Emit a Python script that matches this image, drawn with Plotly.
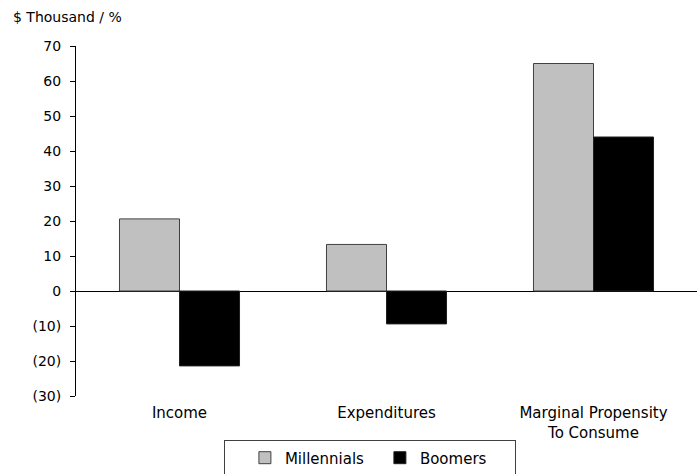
import plotly.graph_objects as go

categories = ["Income", "Expenditures", "Marginal Propensity<br>To Consume"]
millennials = [20.6, 13.3, 65.0]
boomers = [-21.4, -9.4, 44.0]
tick_vals = [-30, -20, -10, 0, 10, 20, 30, 40, 50, 60, 70]
tick_text = ["(30)", "(20)", "(10)", "0", "10", "20", "30", "40", "50", "60", "70"]

FONT = "DejaVu Sans"

fig = go.Figure()
fig.add_trace(go.Bar(
    x=categories, y=millennials, name="Millennials",
    marker=dict(color="#C0C0C0", line=dict(color="#404040", width=1)),
))
fig.add_trace(go.Bar(
    x=categories, y=boomers, name="Boomers",
    marker=dict(color="#000000", line=dict(color="#202020", width=1)),
))

fig.update_layout(
    width=699, height=474,
    margin=dict(l=76, r=2, t=46, b=78, autoexpand=False),
    paper_bgcolor="white", plot_bgcolor="white",
    font=dict(family=FONT, size=14, color="#000000"),
    barmode="group", bargap=0.42, bargroupgap=0,
    showlegend=True,
    legend=dict(
        orientation="h", x=0.474, xanchor="center", y=-0.127, yanchor="top",
        bordercolor="#404040", borderwidth=1, bgcolor="white",
        font=dict(family=FONT, size=15),
        entrywidth=90, itemwidth=30,
        title=dict(text="\u00a0\u00a0", font=dict(size=15)),
    ),
    annotations=[dict(
        text="$ Thousand / %", xref="paper", yref="paper",
        x=-0.1045, y=1.055, xanchor="left", yanchor="bottom",
        showarrow=False, font=dict(family=FONT, size=14),
    )],
)
fig.update_yaxes(
    range=[-30, 70], tickvals=tick_vals, ticktext=tick_text,
    showgrid=False, showline=True, linecolor="#000000", linewidth=1,
    ticks="outside", ticklen=5, tickcolor="#000000",
    zeroline=True, zerolinecolor="#000000", zerolinewidth=1,
    ticklabelstandoff=6, tickfont=dict(size=14), automargin=False,
)
fig.update_xaxes(
    showgrid=False, showline=False, ticks="", zeroline=False,
    tickfont=dict(size=15), ticklabelstandoff=6, automargin=False,
)

fig.write_html("out.html")
